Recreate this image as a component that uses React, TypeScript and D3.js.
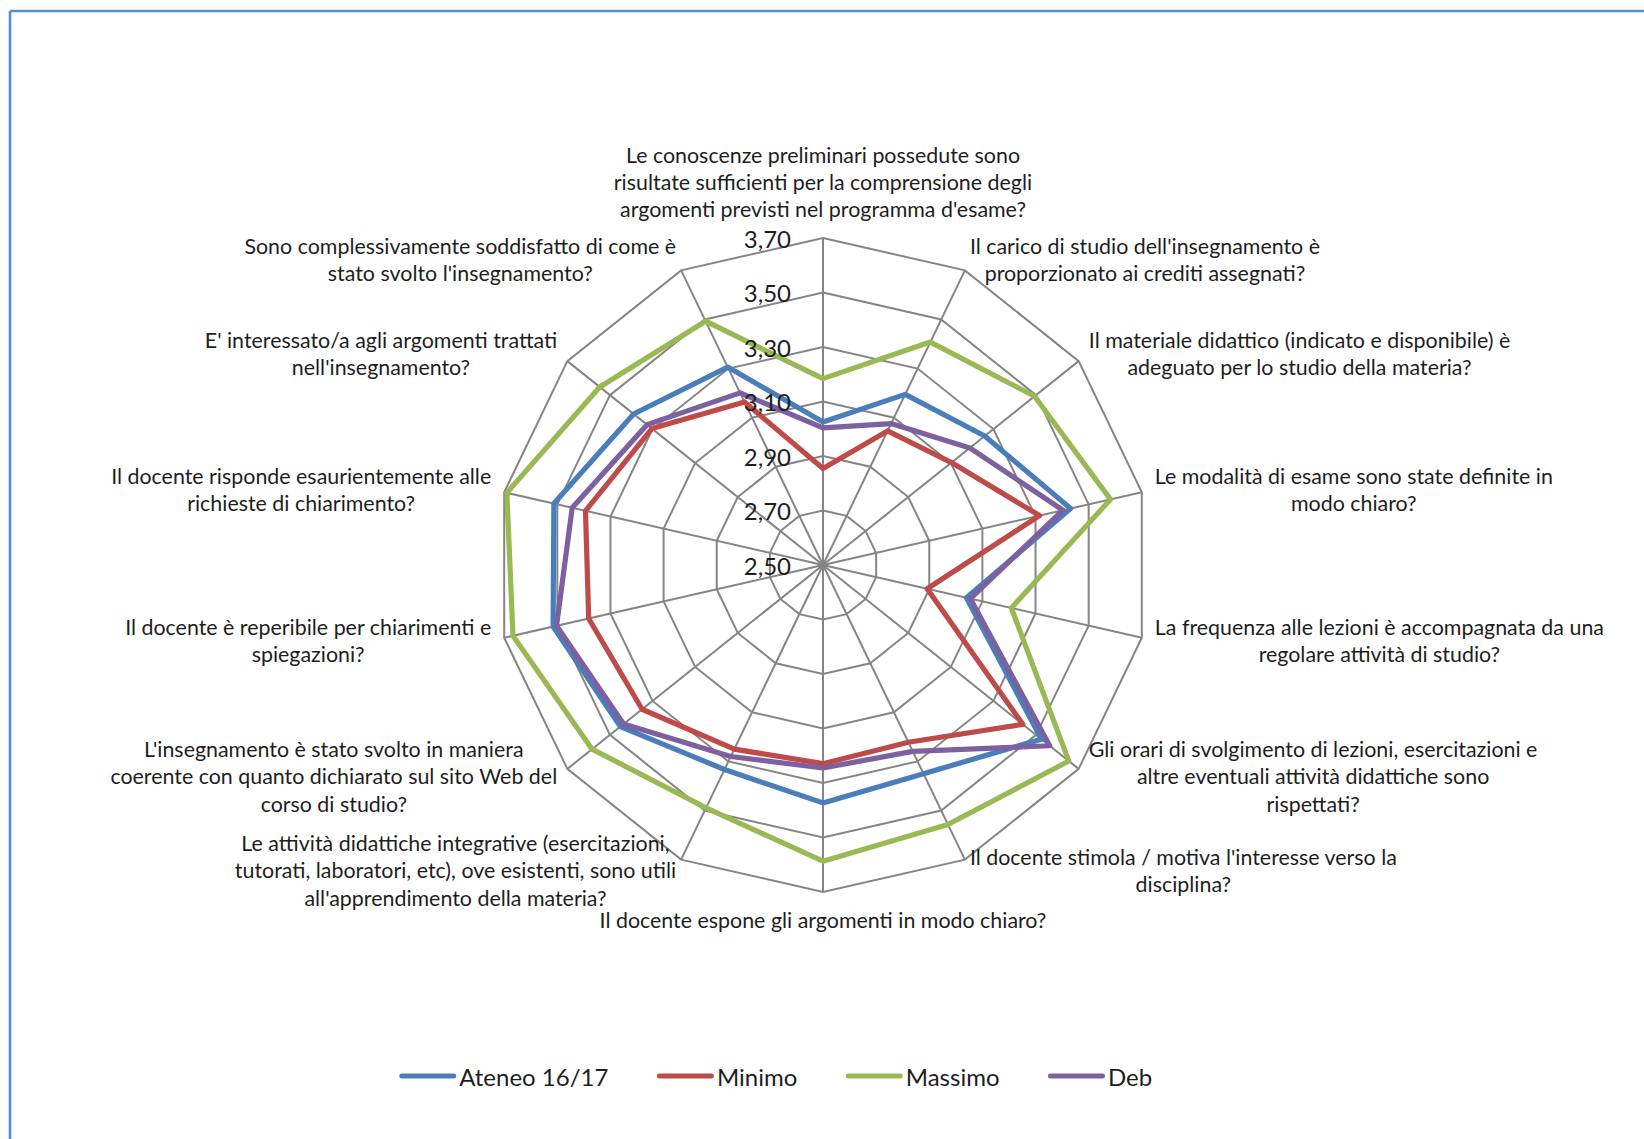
import React, { useEffect, useRef } from 'react';
import * as d3 from 'd3';

const categories: string[][] = [
  ['Le conoscenze preliminari possedute sono', 'risultate sufficienti per la comprensione degli', "argomenti previsti nel programma d'esame?"],
  ["Il carico di studio dell'insegnamento è", 'proporzionato ai crediti assegnati?'],
  ['Il materiale didattico (indicato e disponibile) è', 'adeguato per lo studio della materia?'],
  ['Le modalità di esame sono state definite in', 'modo chiaro?'],
  ['La frequenza alle lezioni è accompagnata da una', 'regolare attività di studio?'],
  ['Gli orari di svolgimento di lezioni, esercitazioni e', 'altre eventuali attività didattiche sono', 'rispettati?'],
  ["Il docente stimola / motiva l'interesse verso la", 'disciplina?'],
  ['Il docente espone gli argomenti in modo chiaro?'],
  ['Le attività didattiche integrative (esercitazioni,', 'tutorati, laboratori, etc), ove esistenti, sono utili', "all'apprendimento della materia?"],
  ["L'insegnamento è stato svolto in maniera", 'coerente con quanto dichiarato sul sito Web del', 'corso di studio?'],
  ['Il docente è reperibile per chiarimenti e', 'spiegazioni?'],
  ['Il docente risponde esaurientemente alle', 'richieste di chiarimento?'],
  ["E' interessato/a agli argomenti trattati", "nell'insegnamento?"],
  ['Sono complessivamente soddisfatto di come è', "stato svolto l'insegnamento?"],
];

const tickValues = [2.5, 2.7, 2.9, 3.1, 3.3, 3.5, 3.7];
const tickLabels = ['2,50', '2,70', '2,90', '3,10', '3,30', '3,50', '3,70'];

const seriesNames = ['Ateneo 16/17', 'Minimo', 'Massimo', 'Deb'];
const seriesColors = ['#4a7ebb', '#be4b48', '#98b954', '#7d60a0'];

const ateneo = [3.025, 3.195, 3.259, 3.432, 3.04, 3.525, 3.35, 3.373, 3.333, 3.451, 3.516, 3.513, 3.389, 3.306];
const minimo = [2.854, 3.046, 3.103, 3.315, 2.892, 3.438, 3.222, 3.229, 3.25, 3.349, 3.382, 3.394, 3.303, 3.164];
const massimo = [3.184, 3.408, 3.493, 3.582, 3.209, 3.654, 3.557, 3.587, 3.489, 3.584, 3.667, 3.69, 3.548, 3.493];
const deb = [3.003, 3.076, 3.189, 3.403, 3.055, 3.564, 3.259, 3.245, 3.28, 3.436, 3.503, 3.444, 3.326, 3.201];

const seriesValues = [ateneo, minimo, massimo, deb];

const W = 1644;
const H = 1139;
const CX = 823;
const CY = 565;
const R = 327;
const FONT = 'Lato, "Open Sans", sans-serif';
const LABEL_SIZE = 21.4;
const LINE_H = 27.3;

export default function App() {
  const ref = useRef<SVGSVGElement | null>(null);

  useEffect(() => {
    const svg = d3.select(ref.current);
    svg.selectAll('*').remove();

    const n = categories.length;
    const step = (2 * Math.PI) / n;
    const r = d3.scaleLinear().domain([tickValues[0], tickValues[tickValues.length - 1]]).range([0, R]);

    // frame (top & left edges visible)
    svg.append('line').attr('x1', 10).attr('y1', 11).attr('x2', W).attr('y2', 11)
      .attr('stroke', '#5a8bcf').attr('stroke-width', 2.6);
    svg.append('line').attr('x1', 10).attr('y1', 11).attr('x2', 10).attr('y2', H)
      .attr('stroke', '#5a8bcf').attr('stroke-width', 2.6);

    const g = svg.append('g').attr('transform', `translate(${CX},${CY})`);

    const idx = d3.range(n);
    // rings
    const ring = d3.lineRadial<number>().angle((d) => d * step).curve(d3.curveLinearClosed);
    tickValues.slice(1).forEach((t) => {
      g.append('path')
        .attr('d', ring.radius(r(t))(idx) as string)
        .attr('fill', 'none')
        .attr('stroke', '#858585')
        .attr('stroke-width', 2);
    });
    // spokes
    idx.forEach((i) => {
      const a = i * step;
      g.append('line')
        .attr('x1', 0).attr('y1', 0)
        .attr('x2', R * Math.sin(a)).attr('y2', -R * Math.cos(a))
        .attr('stroke', '#858585').attr('stroke-width', 2);
    });

    // series
    const line = d3.lineRadial<number>()
      .angle((_d, i) => i * step)
      .radius((d) => r(d))
      .curve(d3.curveLinearClosed);
    seriesValues.forEach((vals, si) => {
      g.append('path')
        .attr('d', line(vals) as string)
        .attr('fill', 'none')
        .attr('stroke', seriesColors[si])
        .attr('stroke-width', 5.2)
        .attr('stroke-linejoin', 'round');
    });

    // tick labels
    tickValues.forEach((t, ti) => {
      g.append('text')
        .attr('x', -32)
        .attr('y', -r(t))
        .attr('text-anchor', 'end')
        .attr('dominant-baseline', 'central')
        .attr('font-family', FONT)
        .attr('font-size', 24)
        .attr('fill', '#1e1e1e')
        .text(tickLabels[ti]);
    });

    // category labels
    categories.forEach((lines, i) => {
      const a = i * step;
      const s = Math.sin(a);
      const c = Math.cos(a);
      const vx = CX + R * s;
      const vy = CY - R * c;
      const tg = svg.append('g');
      const texts = lines.map((ln) =>
        tg.append('text')
          .attr('text-anchor', 'middle')
          .attr('dominant-baseline', 'central')
          .attr('font-family', FONT)
          .attr('font-size', LABEL_SIZE)
          .attr('fill', '#1e1e1e')
          .text(ln)
      );
      const w = d3.max(texts, (t) => (t.node() as SVGTextElement).getComputedTextLength()) || 0;
      const h = lines.length * LINE_H;
      let bx: number;
      let by: number;
      if (Math.abs(s) < 0.01) {
        bx = vx;
        by = c > 0 ? vy - 15 - h / 2 : vy + 14 + h / 2;
      } else {
        const gap = 5 + 14.8 * (Math.abs(s) - 0.434);
        bx = vx + Math.sign(s) * (gap + w / 2);
        by = vy - 12 * c;
      }
      texts.forEach((t, li) => {
        t.attr('x', bx).attr('y', by - h / 2 + LINE_H * (li + 0.5));
      });
    });

    // legend
    const lg = svg.append('g');
    const lineLen = 56;
    const textGap = 3.5;
    const itemGap = 49;
    const ly = 1076;
    const items = seriesNames.map((name, si) => {
      const t = lg.append('text')
        .attr('dominant-baseline', 'central')
        .attr('font-family', FONT)
        .attr('font-size', 24)
        .attr('fill', '#1e1e1e')
        .attr('y', ly)
        .text(name);
      const l = lg.append('line')
        .attr('y1', ly).attr('y2', ly)
        .attr('stroke', seriesColors[si])
        .attr('stroke-width', 5)
        .attr('stroke-linecap', 'round');
      const tw = (t.node() as SVGTextElement).getComputedTextLength();
      return { t, l, tw };
    });
    const total = d3.sum(items, (it) => lineLen + textGap + it.tw) + itemGap * (items.length - 1);
    let x = 776 - total / 2;
    items.forEach((it) => {
      it.l.attr('x1', x + 2).attr('x2', x + lineLen - 2);
      it.t.attr('x', x + lineLen + textGap);
      x += lineLen + textGap + it.tw + itemGap;
    });
  }, []);

  return (
    <svg
      ref={ref}
      width={W}
      height={H}
      style={{ position: 'absolute', left: 0, top: 0, display: 'block', background: '#fff' }}
    />
  );
}
